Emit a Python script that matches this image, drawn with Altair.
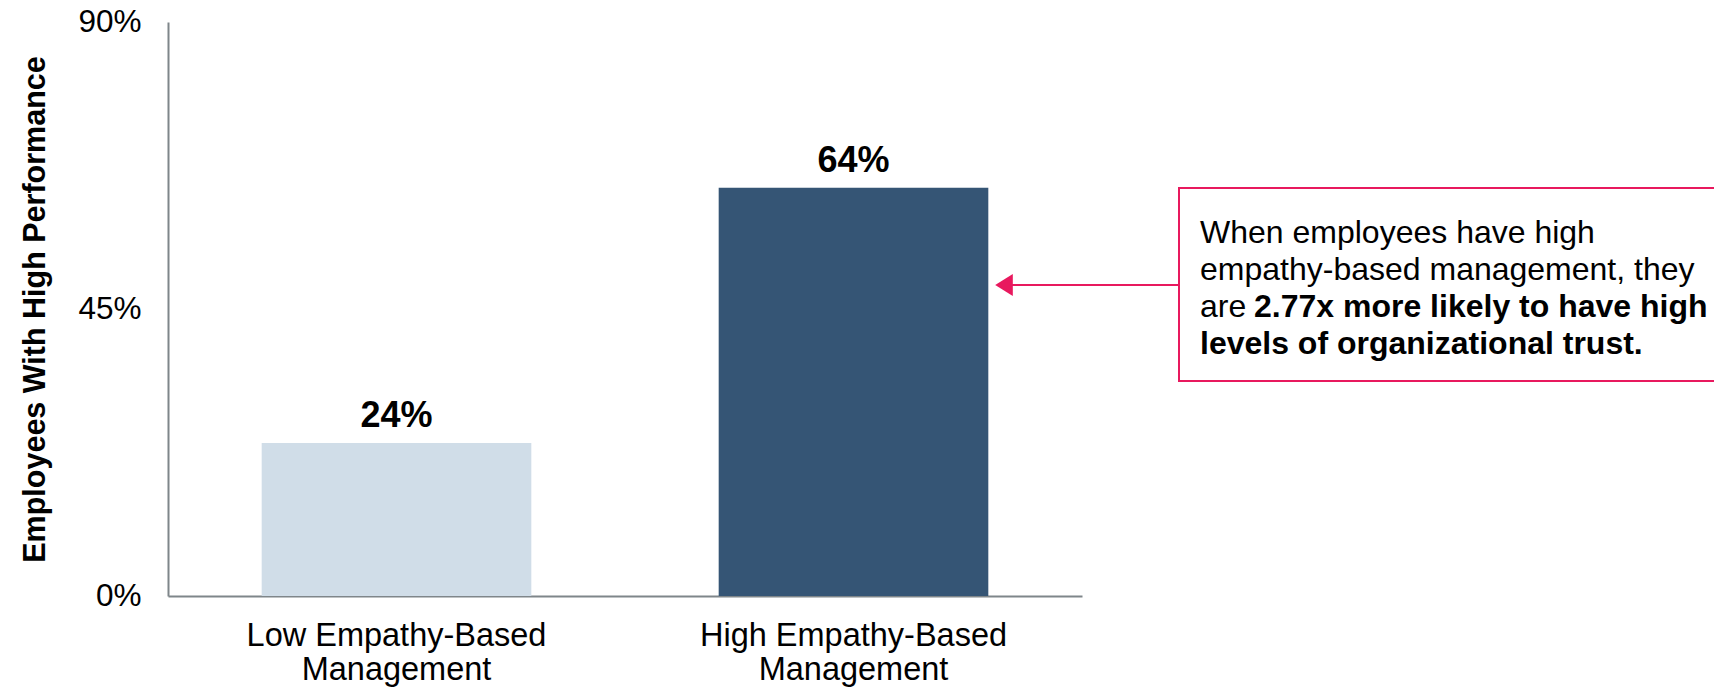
import altair as alt
import pandas as pd

# ---- data ----
categories = ["Low Empathy-Based Management", "High Empathy-Based Management"]
values = [24, 64]
value_labels = ["24%", "64%"]
bar_colors = ["#D0DDE8", "#355575"]
y_ticks = [0, 45, 90]
y_title = "Employees With High Performance"
note_line1 = "When employees have high"
note_line2 = "empathy-based management, they"
note_line3_regular = "are"
note_line3_bold = "2.77x more likely to have high"
note_line4_bold = "levels of organizational trust."

# ---- layout ----
W, H = 914, 574
PAD_L, PAD_T = 168, 22
FONT = "Liberation Sans"
ACCENT = "#E8195E"
AXIS_COL = "#7F868A"

df = pd.DataFrame({"cat": categories, "val": values, "lab": value_labels})

x_enc = alt.X(
    "cat:N",
    sort=categories,
    scale=alt.Scale(paddingInner=0.41, paddingOuter=0.205),
    title=None,
    axis=alt.Axis(
        labelAngle=0,
        labelExpr="[replace(datum.label, ' Management', ''), 'Management']",
        labelFont=FONT,
        labelFontSize=32.5,
        labelLineHeight=34,
        labelColor="black",
        labelPadding=23,
        labelLimit=0,
        labelOverlap=False,
        ticks=False,
        domainColor=AXIS_COL,
        domainWidth=2,
        labelBaseline="top",
    ),
)

y_enc = alt.Y(
    "val:Q",
    scale=alt.Scale(domain=[0, 90], nice=False),
    axis=alt.Axis(
        values=y_ticks,
        labelExpr="datum.value + '%'",
        title=y_title,
        titleFont=FONT,
        titleFontSize=30.5,
        titleFontWeight="bold",
        titleColor="black",
        titleAngle=270,
        titleX=35 - PAD_L,
        titleY=H / 2,
        titleAlign="center",
        titleBaseline="middle",
        labelFont=FONT,
        labelFontSize=31.5,
        labelColor="black",
        labelPadding=27,
        ticks=False,
        grid=False,
        domainColor=AXIS_COL,
        domainWidth=2,
    ),
)

bars = alt.Chart(df).mark_bar().encode(
    x=x_enc,
    y=y_enc,
    color=alt.Color("cat:N", scale=alt.Scale(domain=categories, range=bar_colors), legend=None),
)

vals = alt.Chart(df).mark_text(
    baseline="alphabetic", dy=-16, font=FONT, fontWeight="bold", fontSize=36, color="black"
).encode(x=alt.X("cat:N", sort=categories), y="val:Q", text="lab:N")

one = pd.DataFrame({"k": [0]})

box = alt.Chart(one).mark_rect(fill="white", stroke=ACCENT, strokeWidth=2).encode(
    x=alt.value(1179 - PAD_L), x2=alt.value(1740 - PAD_L),
    y=alt.value(188 - PAD_T), y2=alt.value(381 - PAD_T),
)

arrow_y = 285 - PAD_T
arrow_line = alt.Chart(one).mark_rule(color=ACCENT, strokeWidth=2).encode(
    x=alt.value(1004 - PAD_L), x2=alt.value(1179 - PAD_L), y=alt.value(arrow_y)
)
arrow_head = alt.Chart(one).mark_point(
    shape="M -0.8 0 L 0.8 -1 L 0.8 1 Z", filled=True, size=484, color=ACCENT, opacity=1
).encode(x=alt.value(1004 - PAD_L), y=alt.value(arrow_y))

NOTE_SIZE = 32
TX = 1200 - PAD_L
base_y = [243, 280, 317, 354]
def note(txt, xpix, ypix, weight):
    return alt.Chart(one).mark_text(
        align="left", baseline="alphabetic", font=FONT, fontSize=NOTE_SIZE,
        fontWeight=weight, color="black", text=txt
    ).encode(x=alt.value(xpix), y=alt.value(ypix - PAD_T))

bold_x = TX + 54
notes = [
    note(note_line1, TX, base_y[0], "normal"),
    note(note_line2, TX, base_y[1], "normal"),
    note(note_line3_regular, TX, base_y[2], "normal"),
    note(note_line3_bold, bold_x, base_y[2], "bold"),
    note(note_line4_bold, TX, base_y[3], "bold"),
]

chart = alt.layer(bars, vals, box, arrow_line, arrow_head, *notes).properties(
    width=W,
    height=H,
    autosize=alt.AutoSizeParams(type="none"),
    padding={"left": PAD_L, "top": PAD_T, "right": 1714 - PAD_L - W, "bottom": 94},
    background="white",
).configure_view(stroke=None)

chart.save("out.html", embed_options={"renderer": "svg", "actions": False})
